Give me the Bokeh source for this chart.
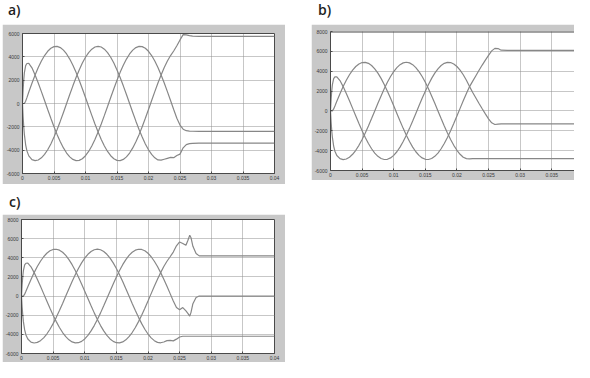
from bokeh.plotting import figure
from bokeh.layouts import column, row
from bokeh.models import FixedTicker, Div, Spacer, Span
from bokeh.embed import file_html
from bokeh.resources import INLINE

# ---------------- data (time in s, voltage in V) ----------------
# start-up and steady three-phase part, common to the three cases
t_common = [0, 0.0001, 0.0002, 0.0003, 0.0005, 0.0007, 0.001, 0.0015,
            0.002, 0.0025, 0.003, 0.0035, 0.004, 0.0045, 0.005, 0.0055, 0.006, 0.0065,
            0.007, 0.0075, 0.008, 0.0085, 0.009, 0.0095, 0.01, 0.0105, 0.011, 0.0115,
            0.012, 0.0125, 0.013, 0.0135, 0.014, 0.0145, 0.015, 0.0155, 0.016, 0.0165,
            0.017, 0.0175, 0.018, 0.0185, 0.019, 0.0195, 0.02]
va_common = [0, 0, 0, 0, 200, 500, 980, 1740,
             2450, 3084, 3641, 4110, 4476, 4733, 4873, 4893, 4793, 4575,
             4244, 3808, 3279, 2669, 1993, 1268, 512, -256, -1019, -1756,
             -2450, -3084, -3641, -4110, -4476, -4733, -4873, -4893, -4793, -4575,
             -4244, -3808, -3279, -2669, -1993, -1268, -512]
vb_common = [0, -1150, -2020, -2670, -3540, -4060, -4490, -4810,
             -4900, -4840, -4660, -4366, -3964, -3465, -2880, -2225, -1514, -767,
             0, 767, 1514, 2225, 2880, 3465, 3964, 4366, 4660, 4840,
             4900, 4840, 4660, 4366, 3964, 3465, 2880, 2225, 1514, 767,
             0, -767, -1514, -2225, -2880, -3465, -3964]
vc_common = [0, 1200, 2050, 2650, 3250, 3430, 3440, 3060,
             2450, 1756, 1019, 256, -512, -1268, -1993, -2669, -3279, -3808,
             -4244, -4575, -4793, -4893, -4873, -4733, -4476, -4110, -3641, -3084,
             -2450, -1756, -1019, -256, 512, 1268, 1993, 2669, 3279, 3808,
             4244, 4575, 4793, 4893, 4873, 4733, 4476]

# case a) after the fault
t_a = [0.0205, 0.021, 0.0215, 0.022, 0.0225, 0.023, 0.0235, 0.024, 0.0245,
       0.025, 0.0255, 0.026, 0.0265, 0.027, 0.028, 0.03, 0.04]
va_a = [256, 1019, 1756, 2450, 3084, 3641, 4110, 4500, 4950,
        5450, 5900, 5880, 5820, 5780, 5760, 5750, 5750]
vb_a = [-4366, -4660, -4840, -4860, -4780, -4700, -4620, -4640, -4460,
        -4340, -3800, -3520, -3440, -3410, -3400, -3400, -3400]
vc_a = [4110, 3641, 3084, 2450, 1756, 1019, 256, -512, -1268,
        -1850, -2200, -2330, -2370, -2380, -2390, -2390, -2390]

# case b)
t_b = [0.0205, 0.021, 0.0215, 0.022, 0.0225, 0.023, 0.0235, 0.024,
       0.0245, 0.025, 0.0255, 0.026, 0.0265, 0.027, 0.028, 0.04]
va_b = [256, 1019, 1756, 2450, 3000, 3550, 4100, 4620,
        5120, 5600, 6050, 6300, 6280, 6120, 6100, 6100]
vb_b = [-4366, -4660, -4800, -4820, -4810, -4800, -4800, -4800,
        -4800, -4800, -4800, -4800, -4800, -4800, -4800, -4800]
vc_b = [4110, 3641, 3084, 2450, 1850, 1300, 750, 220,
        -300, -800, -1200, -1370, -1320, -1300, -1300, -1300]

# case c)
t_c = [0.0205, 0.021, 0.0215, 0.022, 0.0225, 0.023, 0.0235, 0.024, 0.0245, 0.025,
       0.0255, 0.026, 0.0263, 0.0266, 0.0268, 0.0271, 0.0276, 0.0281, 0.029, 0.04]
va_c = [256, 1019, 1756, 2450, 3084, 3641, 4110, 4600, 5250, 5650,
        5500, 5300, 5800, 6350, 6100, 5200, 4450, 4200, 4200, 4200]
vb_c = [-4366, -4660, -4840, -4880, -4800, -4660, -4620, -4680, -4500, -4280,
        -4200, -4200, -4200, -4200, -4200, -4200, -4200, -4200, -4200, -4200]
vc_c = [4110, 3641, 3084, 2450, 1756, 1019, 256, -512, -1200, -1430,
        -1200, -1550, -1800, -2100, -1700, -800, -150, 0, 0, 0]

x_ticks = [0, 0.005, 0.01, 0.015, 0.02, 0.025, 0.03, 0.035, 0.04]
x_tick_labels = ["0", "0.005", "0.01", "0.015", "0.02", "0.025", "0.03", "0.035", "0.04"]
y_ticks_a = [-6000, -4000, -2000, 0, 2000, 4000, 6000]
y_ticks_bc = [-6000, -4000, -2000, 0, 2000, 4000, 6000, 8000]
panel_labels = ["a)", "b)", "c)"]

# ---------------- styling ----------------
FRAME_GRAY = "#c8c8c8"
AXIS_COL = "#4a4a4a"
CURVE_COL = "#878787"
GRID_COL = "#8e8e8e"


def panel(w, h, xr, yr, yticks, mb, outline=True):
    p = figure(width=w, height=h, x_range=xr, y_range=yr,
               output_backend="svg", toolbar_location=None,
               min_border_left=mb[0], min_border_right=mb[1],
               min_border_top=mb[2], min_border_bottom=mb[3],
               border_fill_color=FRAME_GRAY, background_fill_color="white",
               outline_line_color=AXIS_COL if outline else None)
    xt = FixedTicker(ticks=x_ticks)
    yt = FixedTicker(ticks=yticks)
    p.xaxis.ticker = xt
    p.yaxis.ticker = yt
    p.xgrid.ticker = xt
    p.ygrid.ticker = yt
    p.xaxis.major_label_overrides = dict(zip(x_ticks, x_tick_labels))
    p.yaxis.major_label_overrides = {v: str(v) for v in yticks}
    for ax in (p.xaxis, p.yaxis):
        ax.major_label_text_font = "Liberation Sans"
        ax.major_label_text_font_size = "5px"
        ax.major_label_text_color = "#3a3a3a"
        ax.major_tick_in = 2
        ax.major_tick_out = 0
        ax.minor_tick_in = 0
        ax.minor_tick_out = 0
        ax.axis_line_color = AXIS_COL
        ax.major_tick_line_color = AXIS_COL
    p.xaxis.major_label_standoff = 2
    p.yaxis.major_label_standoff = 3
    for g in (p.xgrid, p.ygrid):
        g.grid_line_color = GRID_COL
        g.grid_line_dash = "1 1"
        g.grid_line_width = 1
    return p


def draw(p, t_post, va, vb, vc):
    x = t_common + t_post
    for common, post in ((va_common, va), (vb_common, vb), (vc_common, vc)):
        p.line(x, common + post, line_color=CURVE_COL, line_width=1.2)


def label(txt, w, h, pad_top, pad_left):
    return Div(text=('<div style="padding:%dpx 0 0 %dpx;font-family:\'Open Sans\';'
                     'font-size:14px;line-height:16px;font-weight:600;color:#1e1e1e;'
                     'white-space:nowrap">%s</div>')
               % (pad_top, pad_left, txt), width=w, height=h, margin=0)


pa = panel(283, 160, (0, 0.04), (-6000, 6000), y_ticks_a, (20, 11, 9, 11))
draw(pa, t_a, va_a, vb_a, vc_a)

pb = panel(263, 156, (0, 0.0386), (-6000, 8000), y_ticks_bc, (19, 0, 7, 10), outline=False)
pb.add_layout(Span(location=8000, dimension="width", line_color=AXIS_COL, line_width=2))
draw(pb, t_b, va_b, vb_b, vc_b)

pc = panel(283, 148, (0, 0.04), (-6000, 8000), y_ticks_bc, (19, 11, 5, 8))
draw(pc, t_c, va_c, vb_c, vc_c)

col_a = column(label(panel_labels[0], 283, 24, 2, 6), pa)
col_b = column(label(panel_labels[1], 263, 24, 2, 7), pb, Spacer(width=263, height=4))
row1 = row(Spacer(width=2, height=184), col_a, Spacer(width=26, height=184), col_b)
col_c = column(label(panel_labels[2], 283, 30, 10, 7), pc)
row2 = row(Spacer(width=2, height=178), col_c)
layout = column(row1, row2)

open("out.html", "w").write(file_html(layout, INLINE))
